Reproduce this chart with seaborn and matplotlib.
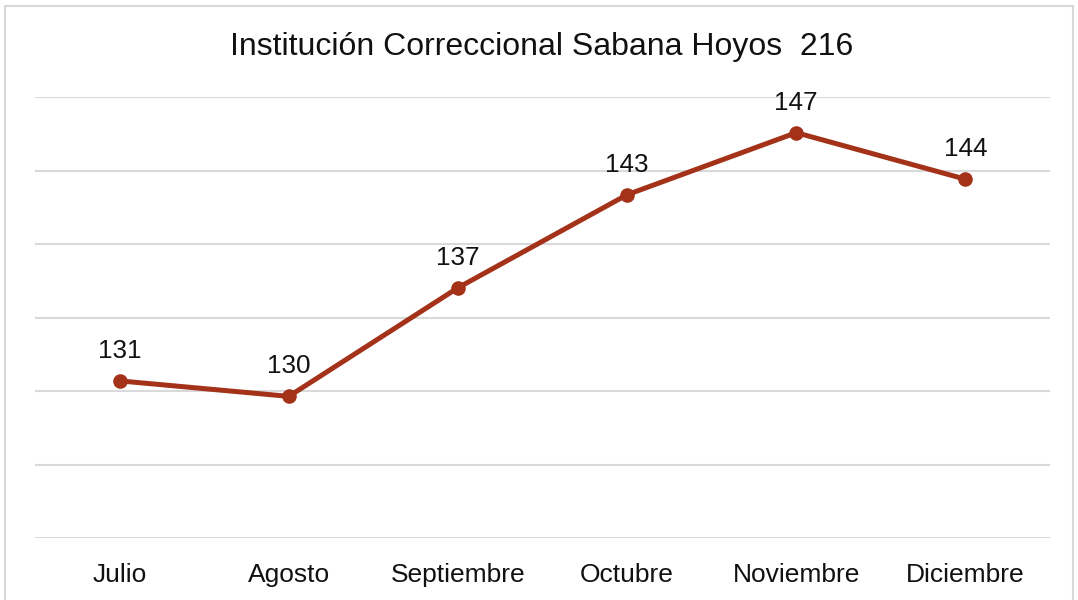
import numpy as np
import pandas as pd
import matplotlib
matplotlib.use("Agg")
import matplotlib.pyplot as plt
import seaborn as sns
from matplotlib.patches import Rectangle

months = ["Julio", "Agosto", "Septiembre", "Octubre", "Noviembre", "Diciembre"]
values = [131, 130, 137, 143, 147, 144]
title = "Institución Correccional Sabana Hoyos  216"

sns.set_theme(style="white")
plt.rcParams["font.family"] = ["Liberation Sans", "DejaVu Sans"]

df = pd.DataFrame({"mes": months, "valor": values})
df["pos"] = np.arange(len(df))

fig = plt.figure(figsize=(10.78, 6), dpi=100)
ax = fig.add_axes([35 / 1078, 62 / 600, 1015 / 1078, 441 / 600])

sns.lineplot(data=df, x="pos", y="valor", ax=ax, color="#A33219", linewidth=3.6,
             marker="o", markersize=10.5, markeredgewidth=0, markeredgecolor="#A33219")

for x, v in zip(df["pos"], df["valor"]):
    ax.annotate(str(v), (x, v), xytext=(0, 13), textcoords="offset points",
                ha="center", va="bottom", fontsize=18.8, color="#111111")

ymin, ymax = 120.87, 149.3
ax.set_ylim(ymin, ymax)
ax.set_yticks(np.linspace(ymin, ymax, 7))
ax.set_yticklabels([])
ax.yaxis.grid(True, color="#D9D9D9", linewidth=1.5)
ax.set_xlim(-0.5, len(months) - 0.5)
ax.set_xticks(df["pos"])
ax.set_xticklabels(months, fontsize=19, color="#111111")
ax.tick_params(axis="x", length=0, pad=18)
ax.tick_params(axis="y", length=0)
ax.set_xlabel("")
ax.set_ylabel("")
for s in ax.spines.values():
    s.set_visible(False)

fig.text(542 / 1078, 1 - 47 / 600, title, ha="center", va="center", fontsize=23, color="#111111")
fig.patches.append(Rectangle((5 / 1078, -0.01), 1068 / 1078, 1 - 6 / 600 + 0.01,
                             transform=fig.transFigure, fill=False,
                             edgecolor="#D9D9D9", linewidth=1.5))

fig.savefig("out.png", dpi=100)
